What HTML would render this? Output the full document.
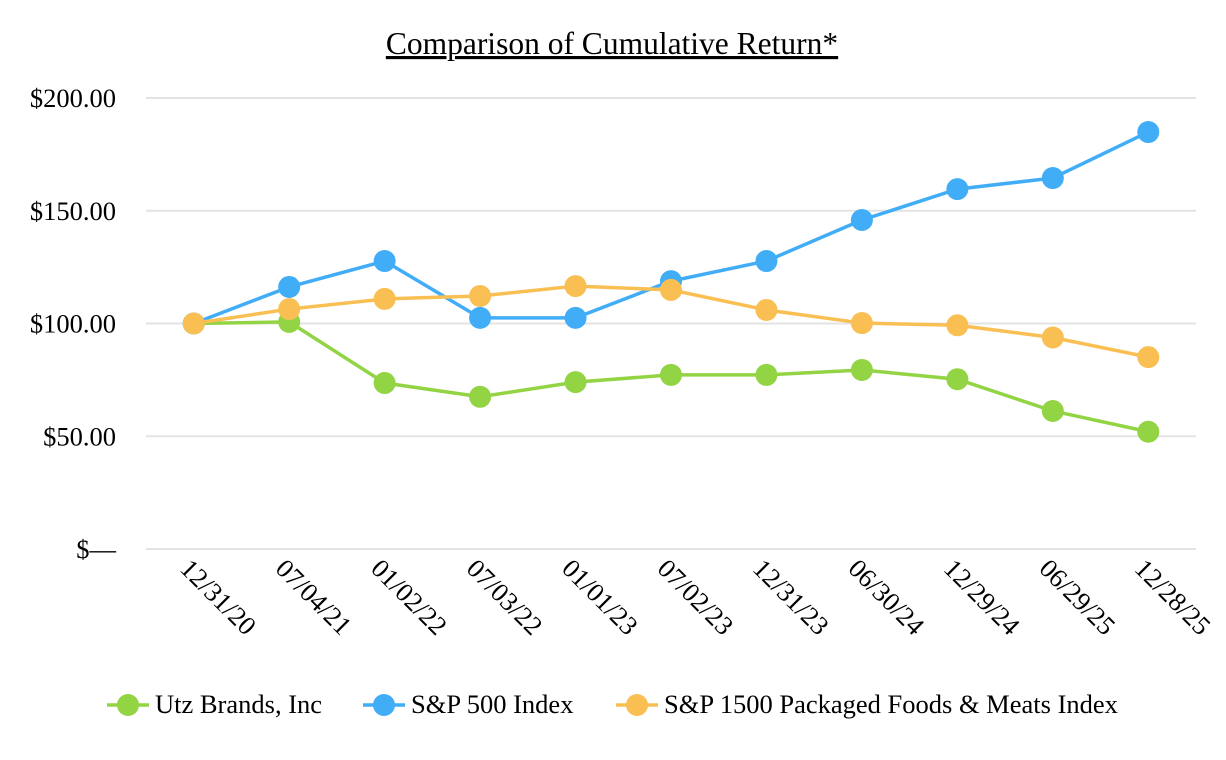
<!DOCTYPE html>
<html><head><meta charset="utf-8"><style>
body{margin:0;background:#fff}
svg{display:block;font-family:"Liberation Serif",serif}
</style></head><body>
<svg id="chart" width="1226" height="760">
<text x="612" y="54" text-anchor="middle" font-size="31.5" text-decoration="underline">Comparison of Cumulative Return*</text>
<g id="grid"></g><g id="xlabels"></g><g id="series"></g><g id="legend"></g>
</svg>
<script>
const categories=["12/31/20","07/04/21","01/02/22","07/03/22","01/01/23","07/02/23","12/31/23","06/30/24","12/29/24","06/29/25","12/28/25"];
const utz=[100,100.7,73.6,67.5,74,77.2,77.2,79.4,75.3,61.2,52];
const sp500=[100,116.2,127.7,102.5,102.5,118.8,127.7,145.9,159.6,164.5,184.9];
const foods=[100,106.4,110.9,112.2,116.6,114.9,106,100.2,99.2,93.8,85.1];
const yTicks=[0,50,100,150,200];
const yTickLabels=["$—","$50.00","$100.00","$150.00","$200.00"];
const seriesNames=["Utz Brands, Inc","S&P 500 Index","S&P 1500 Packaged Foods & Meats Index"];
const colors=["#92d444","#42adf7","#f9bf53"];
const NS="http://www.w3.org/2000/svg";
const x0=146,x1=1196,y0=549,pxPer=2.255;
const band=(x1-x0)/categories.length;
const X=i=>x0+band*(i+0.5);
const Y=v=>y0-v*pxPer;
function mk(t,a,p){const e=document.createElementNS(NS,t);for(const k in a)e.setAttribute(k,a[k]);p.appendChild(e);return e;}
const grid=document.getElementById('grid');
yTicks.forEach((v,i)=>{
 const l=mk('line',{x1:x0,x2:x1,y1:Y(v),y2:Y(v),stroke:'#e3e3e3','stroke-width':2},grid);
 
 
 const t=mk('text',{x:116,y:Y(v)+9,'text-anchor':'end','font-size':26.5},grid);
 t.textContent=yTickLabels[i];
 
 
});
const xl=document.getElementById('xlabels');
categories.forEach((c,i)=>{
 const t=mk('text',{transform:`translate(${X(i)-15},${570}) rotate(45)`,'font-size':26.5},xl);
 t.textContent=c;
 
 
});
const sg=document.getElementById('series');
[utz,sp500,foods].forEach((d,s)=>{
 const g=mk('g',{},sg);
 
 
 const pl=mk('polyline',{points:d.map((v,i)=>X(i)+','+Y(v)).join(' '),fill:'none',stroke:colors[s],'stroke-width':3.5},g);
 
 
 d.forEach((v,i)=>{
  const c=mk('circle',{cx:X(i),cy:Y(v),r:11,fill:colors[s]},g);
  
  
 });
});
const lg=document.getElementById('legend');
const lx=[107,363,616];
seriesNames.forEach((n,s)=>{
 const g=mk('g',{},lg);
 
 
 mk('line',{x1:lx[s],x2:lx[s]+42,y1:705,y2:705,stroke:colors[s],'stroke-width':3.5},g);
 mk('circle',{cx:lx[s]+21,cy:705,r:11,fill:colors[s]},g);
 const t=mk('text',{x:lx[s]+48,y:713,'font-size':26.5},g);
 t.textContent=n;
});
</script>
</body></html>
